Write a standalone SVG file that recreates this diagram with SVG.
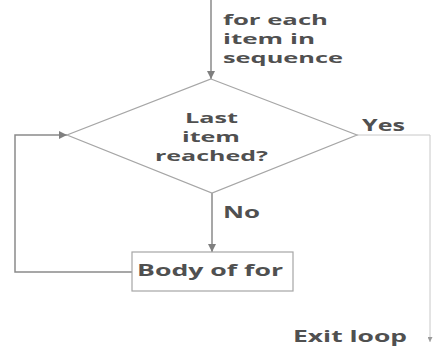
<svg xmlns="http://www.w3.org/2000/svg" width="435" height="347" viewBox="0 0 435 347">
<defs>
<marker id="arr" viewBox="0 0 10 10" refX="10" refY="5" markerWidth="8" markerHeight="8" markerUnits="userSpaceOnUse" orient="auto">
<path d="M0,0 L10,5 L0,10 z" fill="#7f7f7f"/>
</marker>
<marker id="arrs" viewBox="0 0 10 10" refX="10" refY="5" markerWidth="5" markerHeight="5" markerUnits="userSpaceOnUse" orient="auto">
<path d="M0,0 L10,5 L0,10 z" fill="#9a9a9a"/>
</marker>
<style>
.t{font-family:"Open Sans","Liberation Sans",sans-serif;font-weight:bold;font-size:15.5px;fill:#505050}
.m{font-size:13.6px}
.c{fill:none;stroke:#8a8a8a;stroke-width:1.5}
.s{fill:#fff;stroke:#a6a6a6;stroke-width:1.2}
</style>
</defs>
<rect width="435" height="347" fill="#fff"/>
<g id="connectors">
<path class="c" d="M211,0 V79" marker-end="url(#arr)"/>
<path class="c" d="M212,193 V252" marker-end="url(#arr)"/>
<path class="c" d="M132,272 H15 V135 H67" marker-end="url(#arr)"/>
<path class="c" d="M357,135 H430 V342" marker-end="url(#arrs)" style="stroke:#c8c8c8;stroke-width:1"/>
<text class="t m" x="223" y="25" textLength="105" lengthAdjust="spacingAndGlyphs">for each</text>
<text class="t m" x="223" y="44" textLength="92" lengthAdjust="spacingAndGlyphs">item in</text>
<text class="t m" x="223" y="63" textLength="120" lengthAdjust="spacingAndGlyphs">sequence</text>
<text class="t" x="362" y="131" textLength="43" lengthAdjust="spacingAndGlyphs">Yes</text>
<text class="t" x="223" y="218" textLength="37" lengthAdjust="spacingAndGlyphs">No</text>
<text class="t" x="293" y="342" textLength="114" lengthAdjust="spacingAndGlyphs">Exit loop</text>
</g>
<g id="decision">
<polygon class="s" points="211,79 357,135 212,193 67,135"/>
<text class="t m" x="185" y="123" textLength="53" lengthAdjust="spacingAndGlyphs">Last</text>
<text class="t m" x="182" y="142" textLength="58" lengthAdjust="spacingAndGlyphs">item</text>
<text class="t m" x="155" y="161" textLength="113" lengthAdjust="spacingAndGlyphs">reached?</text>
</g>
<g id="body">
<rect class="s" x="132" y="252" width="161" height="39"/>
<text class="t" x="137" y="276" textLength="146" lengthAdjust="spacingAndGlyphs" style="font-size:16.5px">Body of for</text>
</g>
</svg>
